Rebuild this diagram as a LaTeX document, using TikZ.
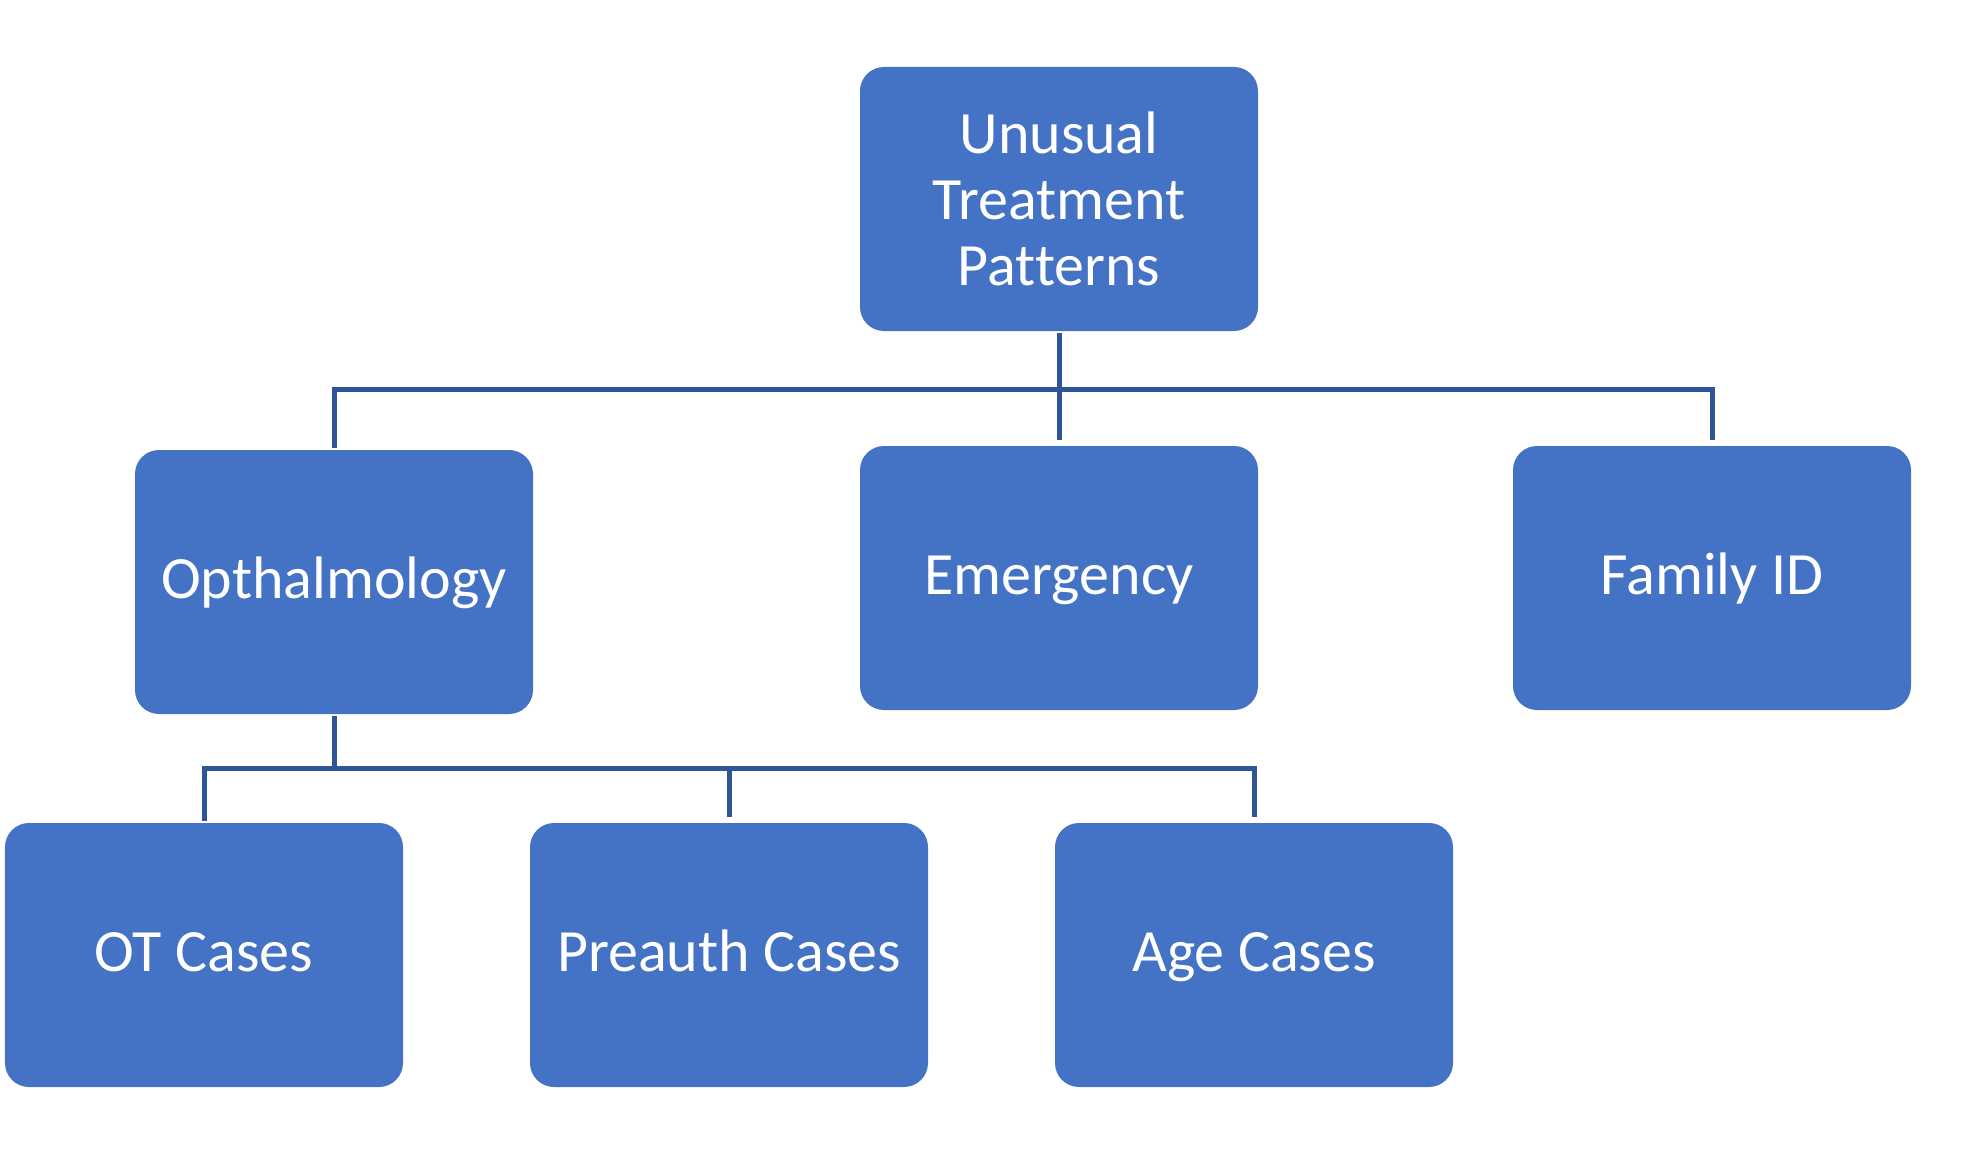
\documentclass[tikz,border=0pt]{standalone}
\usepackage{fontspec}
\setmainfont{Carlito}[Ligatures=NoCommon]
\usepackage{xcolor}
\usepackage{tikz}
\usetikzlibrary{calc,positioning}
\definecolor{boxblue}{HTML}{4472C4}
\definecolor{linkblue}{HTML}{2F5597}
\newcommand\boxstrut{\rule[-7.8pt]{0pt}{31.8pt}}
\newcommand\topstrut{\rule{0pt}{28.5pt}}
\tikzset{box/.style={fill=boxblue, draw=none, rounded corners=12pt, minimum width=199pt, minimum height=132pt,
text=white, align=center, font=\fontsize{30}{33}\selectfont, inner sep=0pt,
execute at begin node=\boxstrut, execute at end node=\boxstrut},
link/.style={draw=linkblue, line width=2.5pt, shorten <=1pt, shorten >=3pt}}

\begin{document}
\begin{tikzpicture}[x=5pt,y=-5pt]

    \useasboundingbox (0,0) rectangle (198.1,115.5);

% the top level

    \node[box] (top) at (105.9,19.9) {\topstrut Unusual\\Treatment\\Patterns};

% the second level

    \node[box] (oph) at (33.4,58.2) {Opthalmology};
    \node[box] (emer) at (105.9,57.8) {Emergency};
    \node[box] (fam) at (171.2,57.8) {Family ID};

% the third level

    \node[box] (ot) at (20.4,95.5) {OT Cases};
    \node[box] (pre) at (72.9,95.5) {Preauth Cases};
    \node[box] (age) at (125.4,95.5) {Age Cases};

% the links

    \coordinate (bar1) at (105.9,38.9);
    \coordinate (bar2) at (33.4,76.8);
    \draw[link] (top.south) -- (emer.north);
    \draw[link] (oph.north) |- (bar1) -| (fam.north);
    \draw[link, shorten >=0pt] (oph.south) -- (bar2);
    \draw[link] (ot.north) |- (bar2) -| (age.north);
    \draw[link, shorten <=0pt] (bar2 -| pre.north) -- (pre.north);

\end{tikzpicture}
\end{document}
